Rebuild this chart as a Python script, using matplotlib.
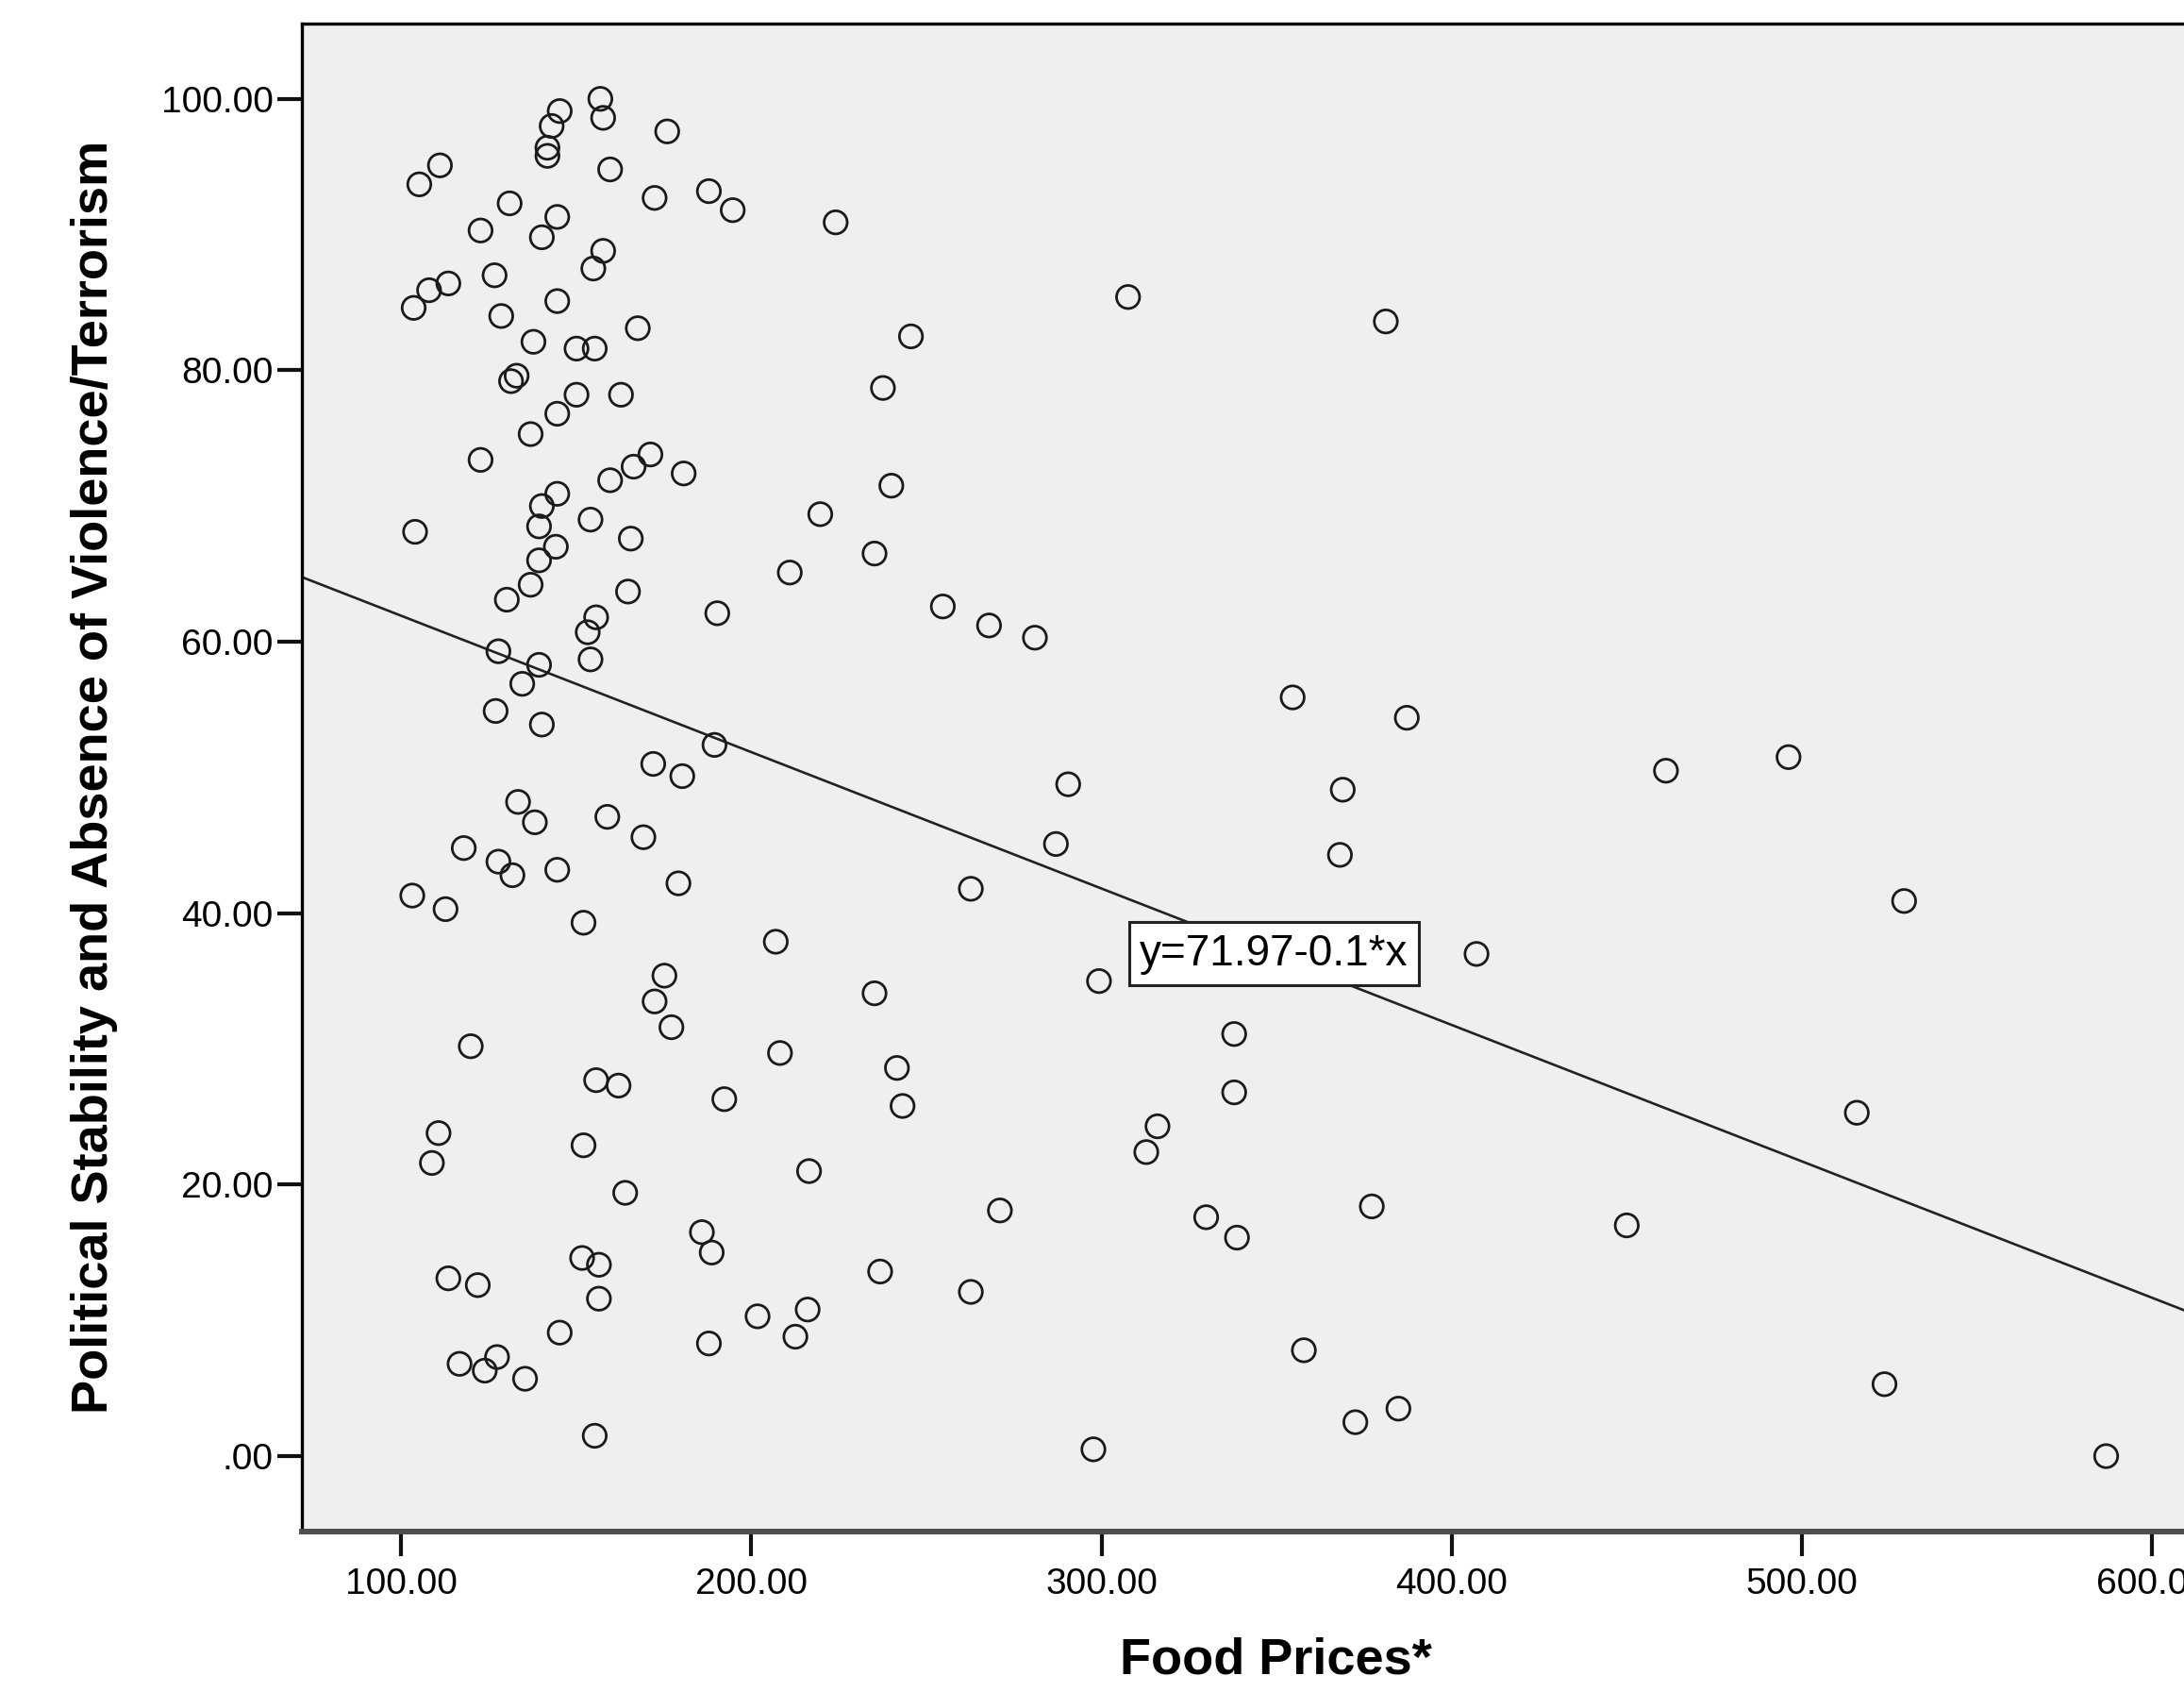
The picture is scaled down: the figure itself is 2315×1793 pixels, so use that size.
import matplotlib
matplotlib.use("Agg")
import matplotlib.pyplot as plt
from matplotlib.ticker import FuncFormatter

# food price index (x) and political stability percentile rank (y)
food_prices = [
    156.9, 157.7, 145.3, 143.0, 141.8, 141.8, 176.0, 111.1, 105.2, 159.7,
    187.9, 194.7, 172.4, 131.0, 144.6, 122.7, 140.2, 157.7, 224.1, 154.9,
    126.7, 113.5, 108.0, 103.6, 144.6, 128.6, 307.6, 381.2, 167.6, 245.6,
    137.8, 150.1, 155.3, 133.0, 131.4, 237.6, 150.1, 162.8, 144.6, 137.0,
    122.7, 171.2, 166.4, 180.7, 159.7, 240.0, 144.6, 140.2, 104.0, 139.4,
    219.7, 154.1, 165.6, 144.2, 139.4, 235.2, 211.0, 137.0, 164.8, 130.2,
    254.7, 190.3, 155.7, 267.9, 153.3, 281.0, 127.8, 154.1, 139.4, 134.6,
    354.6, 127.0, 387.2, 140.2, 189.5, 496.2, 461.2, 172.0, 180.3, 290.5,
    368.9, 133.4, 138.2, 158.9, 169.2, 287.0, 117.9, 127.8, 131.8, 144.6,
    368.1, 103.2, 112.7, 179.2, 262.7, 529.2, 152.1, 207.0, 407.1, 299.3,
    175.2, 172.4, 235.2, 177.2, 337.9, 119.9, 208.2, 241.6, 155.7, 162.1,
    337.9, 192.3, 243.2, 515.7, 110.7, 316.0, 312.8, 108.8, 152.1, 216.5,
    164.0, 377.2, 271.0, 329.9, 450.0, 185.9, 338.7, 188.7, 151.7, 156.5,
    236.8, 113.5, 121.9, 156.5, 262.7, 216.1, 201.8, 145.3, 187.9, 212.6,
    357.8, 127.4, 116.7, 123.9, 135.4, 523.6, 384.8, 372.5, 155.3, 297.7,
    586.9,
]
stability = [
    100.0, 98.6, 99.1, 98.0, 96.4, 95.8, 97.6, 95.1, 93.7, 94.8,
    93.2, 91.8, 92.7, 92.3, 91.3, 90.3, 89.8, 88.8, 90.9, 87.5,
    87.0, 86.4, 85.9, 84.6, 85.1, 84.0, 85.4, 83.6, 83.1, 82.5,
    82.1, 81.6, 81.6, 79.6, 79.2, 78.7, 78.2, 78.2, 76.8, 75.3,
    73.4, 73.8, 72.9, 72.4, 71.9, 71.5, 70.9, 70.0, 68.1, 68.5,
    69.4, 69.0, 67.6, 67.0, 66.0, 66.5, 65.1, 64.2, 63.7, 63.1,
    62.6, 62.1, 61.8, 61.2, 60.7, 60.3, 59.3, 58.7, 58.3, 56.9,
    55.9, 54.9, 54.4, 53.9, 52.4, 51.5, 50.5, 51.0, 50.1, 49.5,
    49.1, 48.2, 46.7, 47.1, 45.6, 45.1, 44.8, 43.8, 42.8, 43.2,
    44.3, 41.3, 40.3, 42.2, 41.8, 40.9, 39.3, 37.9, 37.0, 35.0,
    35.4, 33.5, 34.1, 31.6, 31.1, 30.2, 29.7, 28.6, 27.7, 27.3,
    26.8, 26.3, 25.8, 25.3, 23.8, 24.3, 22.4, 21.6, 22.9, 21.0,
    19.4, 18.4, 18.1, 17.6, 17.0, 16.5, 16.1, 15.0, 14.6, 14.1,
    13.6, 13.1, 12.6, 11.6, 12.1, 10.8, 10.3, 9.1, 8.3, 8.8,
    7.8, 7.3, 6.8, 6.3, 5.7, 5.3, 3.5, 2.5, 1.5, 0.5,
    0.0,
]

# fit line as printed on the chart
intercept = 71.97
slope = -0.1005
fit_label = "y=71.97-0.1*x"

x_ticks = [100, 200, 300, 400, 500, 600]
y_ticks = [0, 20, 40, 60, 80, 100]


def fmt(v, _):
    s = "%.2f" % v
    return s[1:] if s.startswith("0") else s


def main():
    plt.rcParams["font.family"] = ["Liberation Sans", "DejaVu Sans"]

    fig = plt.figure(figsize=(23.15, 17.93), dpi=100)
    # the plot area runs past the right edge of the picture, as in the original
    ax = fig.add_axes([0.1382, 0.0948, 0.9113, 0.8913])
    ax.set_facecolor("#efefef")

    ax.scatter(food_prices, stability, s=310, facecolors="none",
               edgecolors="#1a1a1a", linewidths=2.0, zorder=3)

    ax.axline((0, intercept), slope=slope, color="#222222", lw=1.9, zorder=2)
    ax.text(349.3, 37.0, fit_label, fontsize=33, ha="center", va="center",
            zorder=4,
            bbox=dict(boxstyle="square,pad=0.25", facecolor="white",
                      edgecolor="#222222", linewidth=2.2))

    ax.set_xlim(71.66, 640)
    ax.set_ylim(-5.56, 105.55)
    ax.set_xticks(x_ticks)
    ax.set_yticks(y_ticks)
    ax.xaxis.set_major_formatter(FuncFormatter(fmt))
    ax.yaxis.set_major_formatter(FuncFormatter(fmt))
    ax.tick_params(axis="both", labelsize=28, length=19, width=3,
                   color="#111111", direction="out")
    ax.tick_params(axis="x", pad=8)
    ax.tick_params(axis="y", pad=3)

    for side in ("top", "left"):
        ax.spines[side].set_linewidth(2.4)
        ax.spines[side].set_color("black")
    ax.spines["bottom"].set_linewidth(4.3)
    ax.spines["bottom"].set_color("#4d4d4d")

    fig.text(1352 / 2315, 1 - 1759 / 1793, "Food Prices*", fontsize=39,
             fontweight="bold", ha="center", va="center")
    fig.text(100 / 2315, 1 - 823 / 1793,
             "Political Stability and Absence of Violence/Terrorism",
             fontsize=39, fontweight="bold", rotation=90,
             ha="center", va="center")

    fig.savefig("out.png", dpi=100)


if __name__ == "__main__":
    main()
